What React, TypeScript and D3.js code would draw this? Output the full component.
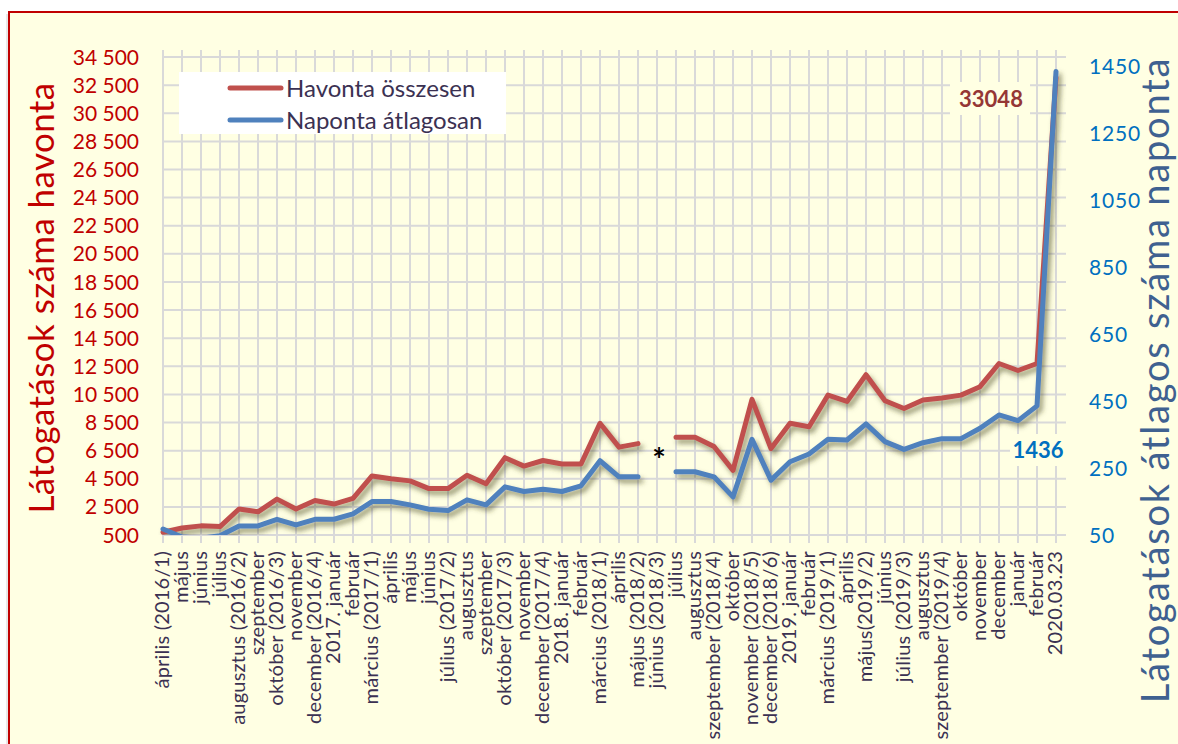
import { useEffect, useRef } from 'react';
import * as d3 from 'd3';

// months on the category axis
const categories = [
  'április (2016/1)', 'május', 'június', 'július', 'augusztus (2016/2)', 'szeptember',
  'október (2016/3)', 'november', 'december (2016/4)', '2017. január', 'február', 'március (2017/1)',
  'április', 'május', 'június', 'július (2017/2)', 'augusztus', 'szeptember',
  'október (2017/3)', 'november', 'december (2017/4)', '2018. január', 'február', 'március (2018/1)',
  'április', 'május (2018/2)', 'június (2018/3)', 'július', 'augusztus', 'szeptember (2018/4)',
  'október', 'november (2018/5)', 'december (2018/6)', '2019. január', 'február', 'március (2019/1)',
  'április', 'május(2019/2)', 'június', 'július (2019/3)', 'augusztus', 'szeptember (2019/4)',
  'október', 'november', 'december', 'január', 'február', '2020.03.23',
];

// "Havonta összesen" (left axis)
const monthlyTotal: (number | null)[] = [
  700, 1000, 1150, 1100, 2350, 2150, 3050, 2350, 2950, 2700, 3100, 4700,
  4500, 4350, 3800, 3800, 4750, 4150, 6000, 5400, 5800, 5550, 5550, 8450,
  6750, 7000, null, 7450, 7450, 6800, 5100, 10150, 6650, 8450, 8200, 10450,
  10000, 11900, 10050, 9500, 10100, 10250, 10450, 11050, 12700, 12200, 12700, 33048,
];

// "Naponta átlagosan" (right axis)
const dailyAverage: (number | null)[] = [
  68, 44, 40, 48, 77, 77, 97, 80, 97, 97, 113, 150,
  150, 140, 127, 123, 155, 140, 194, 180, 187, 180, 197, 272,
  224, 224, null, 239, 239, 224, 164, 336, 214, 269, 292, 336,
  334, 382, 329, 306, 326, 338, 338, 369, 409, 392, 436, 1436,
];

const leftTicks = d3.range(500, 34501, 2000);
const rightTicks = d3.range(50, 1451, 200);

const legendItems = ['Havonta összesen', 'Naponta átlagosan'];

const W = 1178;
const H = 744;
const FONT = 'Lato, "Noto Sans", sans-serif';

const App = () => {
  const ref = useRef<SVGSVGElement | null>(null);

  useEffect(() => {
    if (!ref.current) return;
    const svg = d3.select(ref.current);
    svg.selectAll('*').remove();

    const plot = { left: 163, right: 1056, top: 50, bottom: 535 };
    const red = '#C0504D';
    const blue = '#4F81BD';
    const textDark = '#3B3152';
    const grid = '#D9D9D9';

    const x = d3.scalePoint<string>()
      .domain(categories.map((_, i) => String(i)))
      .range([plot.left, plot.right]);
    const yL = d3.scaleLinear().domain([500, 35000]).range([plot.bottom, plot.top]);
    const yR = d3.scaleLinear().domain([50, 1500]).range([plot.bottom, plot.top]);

    const defs = svg.append('defs');
    const f = defs.append('filter').attr('id', 'shadow')
      .attr('x', '-10%').attr('y', '-10%').attr('width', '130%').attr('height', '130%');
    f.append('feDropShadow')
      .attr('dx', 3).attr('dy', 4).attr('stdDeviation', 2.5)
      .attr('flood-color', '#4a4a1c').attr('flood-opacity', 0.55);
    defs.append('clipPath').attr('id', 'plotclip')
      .append('rect')
      .attr('x', plot.left - 5).attr('y', plot.top - 10)
      .attr('width', plot.right - plot.left + 20).attr('height', plot.bottom - plot.top + 10);

    // frame
    svg.append('rect').attr('width', W).attr('height', H).attr('fill', '#ffffff');
    svg.append('rect')
      .attr('x', 6).attr('y', 14).attr('width', W).attr('height', H)
      .attr('fill', '#d8d8d8').attr('opacity', 0.6);
    svg.append('rect')
      .attr('x', 9).attr('y', 12).attr('width', W).attr('height', H)
      .attr('fill', '#FFFFE3').attr('stroke', '#C00000').attr('stroke-width', 2);

    // gridlines
    const g = svg.append('g');
    leftTicks.forEach(t => {
      g.append('line')
        .attr('x1', plot.left).attr('x2', plot.right + 10)
        .attr('y1', yL(t)).attr('y2', yL(t))
        .attr('stroke', grid).attr('stroke-width', 2);
    });
    categories.forEach((_, i) => {
      g.append('line')
        .attr('x1', x(String(i))!).attr('x2', x(String(i))!)
        .attr('y1', plot.top).attr('y2', plot.bottom + 8)
        .attr('stroke', grid).attr('stroke-width', 2);
    });

    // left axis labels
    svg.append('g').selectAll('text').data(leftTicks).enter().append('text')
      .attr('x', 139).attr('y', d => yL(d)).attr('dy', '0.36em')
      .attr('text-anchor', 'end')
      .attr('font-family', FONT).attr('font-size', 21).attr('fill', '#C00000')
      .text(d => d3.format(',')(d).replace(',', ' '));

    // right axis labels
    svg.append('g').selectAll('text').data(rightTicks).enter().append('text')
      .attr('x', 1089).attr('y', d => yR(d)).attr('dy', '0.36em')
      .attr('text-anchor', 'start')
      .attr('font-family', FONT).attr('font-size', 21).attr('letter-spacing', 0.8).attr('fill', '#0070C0')
      .text(d => String(d));

    // category labels
    svg.append('g').selectAll('text').data(categories).enter().append('text')
      .attr('transform', (_, i) => `translate(${x(String(i))! + 6},${551}) rotate(-90)`)
      .attr('text-anchor', 'end')
      .attr('font-family', FONT).attr('font-size', 20).attr('letter-spacing', 0.2).attr('fill', textDark)
      .text(d => d);

    // axis titles
    svg.append('text')
      .attr('transform', 'translate(54,298) rotate(-90)')
      .attr('text-anchor', 'middle')
      .attr('font-family', FONT).attr('font-size', 35).attr('letter-spacing', 0.4).attr('fill', '#C00000')
      .text('Látogatások száma havonta');
    svg.append('text')
      .attr('transform', 'translate(1169,380) rotate(-90)')
      .attr('text-anchor', 'middle')
      .attr('font-family', FONT).attr('font-size', 38).attr('letter-spacing', 1.8).attr('fill', '#3F6190')
      .text('Látogatások átlagos száma naponta');

    // series
    const series = svg.append('g').attr('clip-path', 'url(#plotclip)');
    const lineL = d3.line<number | null>()
      .defined(d => d !== null)
      .x((_, i) => x(String(i))!)
      .y(d => yL(d as number));
    const lineR = d3.line<number | null>()
      .defined(d => d !== null)
      .x((_, i) => x(String(i))!)
      .y(d => yR(d as number));
    const sg = series.append('g').attr('filter', 'url(#shadow)');
    sg.append('path').datum(monthlyTotal)
      .attr('d', lineL).attr('fill', 'none').attr('stroke', red)
      .attr('stroke-width', 5).attr('stroke-linejoin', 'round').attr('stroke-linecap', 'round');
    sg.append('path').datum(dailyAverage)
      .attr('d', lineR).attr('fill', 'none').attr('stroke', blue)
      .attr('stroke-width', 5).attr('stroke-linejoin', 'round').attr('stroke-linecap', 'round');

    // data labels for the last point
    const last = categories.length - 1;
    const lbl1 = svg.append('g');
    lbl1.append('rect').attr('x', 950).attr('y', 82).attr('width', 80).attr('height', 33).attr('fill', '#FFFFE3');
    lbl1.append('text')
      .attr('x', 991).attr('y', 99).attr('dy', '0.36em').attr('text-anchor', 'middle')
      .attr('font-family', FONT).attr('font-size', 22).attr('font-weight', 'bold').attr('fill', '#953735')
      .text(String(monthlyTotal[last]));
    const lbl2 = svg.append('g');
    lbl2.append('rect').attr('x', 1010).attr('y', 434).attr('width', 56).attr('height', 32).attr('fill', '#FFFFE3');
    lbl2.append('text')
      .attr('x', 1038).attr('y', 450).attr('dy', '0.36em').attr('text-anchor', 'middle')
      .attr('font-family', FONT).attr('font-size', 22).attr('font-weight', 'bold').attr('fill', '#0070C0')
      .text(String(dailyAverage[last]));

    // gap marker
    svg.append('text')
      .attr('x', x('26')! + 2).attr('y', 472).attr('text-anchor', 'middle')
      .attr('font-family', FONT).attr('font-size', 32).attr('font-weight', 'bold').attr('fill', '#000')
      .text('*');

    // legend
    const legend = svg.append('g');
    legend.append('rect').attr('x', 179).attr('y', 72).attr('width', 327).attr('height', 62).attr('fill', '#ffffff');
    legendItems.forEach((name, i) => {
      const yy = 88 + i * 32;
      legend.append('line')
        .attr('x1', 230).attr('x2', 281).attr('y1', yy).attr('y2', yy)
        .attr('stroke', i === 0 ? red : blue).attr('stroke-width', 5).attr('stroke-linecap', 'round');
      legend.append('text')
        .attr('x', 286).attr('y', yy).attr('dy', '0.36em')
        .attr('font-family', FONT).attr('font-size', 24).attr('fill', textDark)
        .text(name);
    });
  }, []);

  return (
    <svg ref={ref} width={W} height={H}
      style={{ position: 'absolute', left: 0, top: 0, display: 'block' }} />
  );
};

export default App;
